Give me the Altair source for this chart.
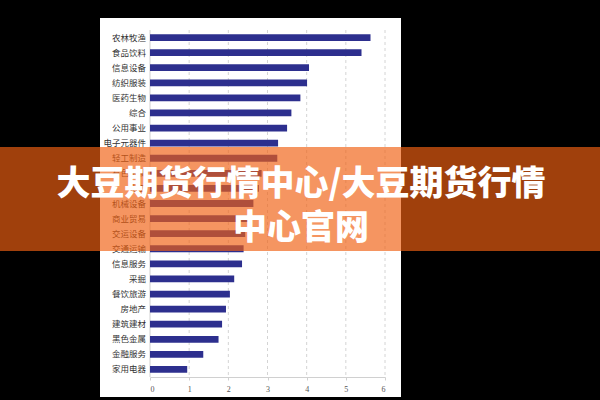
import altair as alt
import pandas as pd

categories = ["农林牧渔", "食品饮料", "信息设备", "纺织服装", "医药生物", "综合",
              "公用事业", "电子元器件", "轻工制造", "有色金属", "化工", "机械设备",
              "商业贸易", "交运设备", "交通运输", "信息服务", "采掘", "餐饮旅游",
              "房地产", "建筑建材", "黑色金属", "金融服务", "家用电器"]
values = [5.63, 5.40, 4.06, 4.01, 3.84, 3.61, 3.50, 3.27, 3.25, 2.85, 2.78, 2.64,
          2.50, 2.43, 2.39, 2.35, 2.15, 2.04, 1.94, 1.84, 1.75, 1.36, 0.95]
grid_ticks = [1, 2, 3, 4, 5, 6]
axis_ticks = [0, 1, 2, 3, 4, 5, 6]
banner_lines = ["大豆期货行情中心/大豆期货行情", "中心官网"]

df = pd.DataFrame({"cat": categories, "val": values})
grid_df = pd.DataFrame({"g": grid_ticks})
zero_df = pd.DataFrame({"g": [0]})
one = pd.DataFrame({"k": [0]})

W, H = 235, 347
xscale = alt.Scale(domain=[0, 6], nice=False, zero=True)
yscale = alt.Scale(domain=categories, paddingInner=0.55, paddingOuter=0.275)

x_axis = alt.Axis(values=axis_ticks, title=None, grid=False, zindex=1,
                  labelOverlap=False, tickCount=7,
                  domainColor="#d0d0d0", tickColor="#d0d0d0", tickSize=3,
                  labelFont="Liberation Serif", labelFontSize=8,
                  labelColor="#555555", labelPadding=5)

panel = alt.Chart(one).mark_rect(color="white").encode(
    x=alt.value(-50), x2=alt.value(251), y=alt.value(-12), y2=alt.value(367))

grid = alt.Chart(grid_df).mark_rule(color="#d4d4d4", strokeDash=[3, 3], strokeWidth=1).encode(
    x=alt.X("g:Q", scale=xscale, axis=x_axis), y=alt.value(0), y2=alt.value(H))

zero_line = alt.Chart(zero_df).mark_rule(color="#d0d0d0", strokeWidth=1).encode(
    x=alt.X("g:Q", scale=xscale, axis=x_axis), y=alt.value(0), y2=alt.value(H))

bars = alt.Chart(df).mark_bar(color="#2D2F8E").encode(
    x=alt.X("val:Q", scale=xscale, axis=x_axis),
    y=alt.Y("cat:N", scale=yscale, sort=categories, axis=None))

labels = alt.Chart(df).mark_text(align="right", baseline="middle", dx=-4,
                                 font="Noto Sans CJK SC", fontSize=8.5,
                                 color="#333333").encode(
    y=alt.Y("cat:N", scale=yscale, sort=categories, axis=None),
    x=alt.value(0), text="cat:N")

banner = alt.Chart(one).mark_rect(color="#F06012", opacity=0.667).encode(
    x=alt.value(-150), x2=alt.value(450), y=alt.value(117), y2=alt.value(221))

banner_text = alt.Chart(one).mark_text(
    text=banner_lines, lineHeight=44, align="center", baseline="middle",
    font="Noto Sans CJK SC", fontSize=34, fontWeight=900, color="white").encode(
    x=alt.value(151), y=alt.value(155))

chart = alt.layer(panel, grid, zero_line, bars, labels, banner, banner_text).properties(
    width=W, height=H,
    background="black",
    padding={"left": 150, "top": 30, "right": 215, "bottom": 23},
    autosize=alt.AutoSizeParams(type="none"),
).configure_view(stroke=None)

chart.save("out.html", embed_options={"renderer": "svg", "actions": False})
